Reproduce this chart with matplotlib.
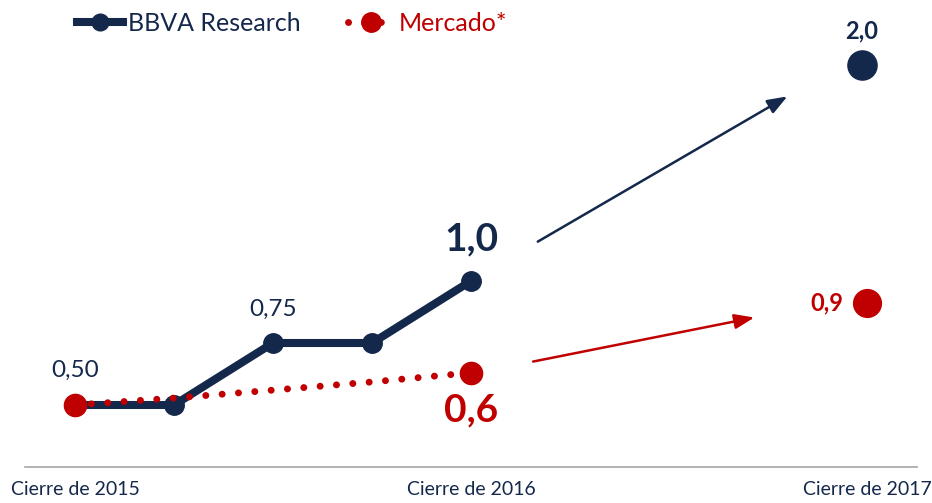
import matplotlib.pyplot as plt
from matplotlib.lines import Line2D

# datos
trimestres = [0, 1, 2, 3, 4]
bbva = [0.50, 0.50, 0.75, 0.75, 1.00]
mercado = [0.50, 0.528, 0.56, 0.593, 0.63]
x_2017 = 8
bbva_2017 = 2.0
mercado_2017 = 0.9
ticks = [0, 4, 8]
tick_labels = ["Cierre de 2015", "Cierre de 2016", "Cierre de 2017"]

AZUL = "#14284b"
ROJO = "#c00000"
plt.rcParams['font.family'] = ['Lato', 'DejaVu Sans']

fig = plt.figure(figsize=(9.32, 5.03), dpi=100)
ax = fig.add_axes([0, 36 / 503, 1, 467 / 503])
ax.set_xlim(-75 / 99, 857 / 99)
ax.set_ylim(0.25, 0.5 + 405 / 248)

ax.plot(trimestres, bbva, color=AZUL, lw=5.8, marker="o", ms=14, zorder=3)
ax.plot(trimestres, mercado, color=ROJO, lw=5.0, dashes=(0.01, 2.35),
        dash_capstyle="round", zorder=4)
ax.plot([trimestres[0], trimestres[-1]], [mercado[0], mercado[-1]], ls="none",
        marker="o", ms=16, color=ROJO, zorder=5)

# etiquetas
ax.text(0, 0.64, "0,50", ha="center", va="center", fontsize=17.5, color=AZUL)
ax.text(2, 0.885, "0,75", ha="center", va="center", fontsize=17.5, color=AZUL)
ax.text(4, 1.17, "1,0", ha="center", va="center", fontsize=28, color=AZUL, fontweight="bold")
ax.text(4, 0.48, "0,6", ha="center", va="center", fontsize=28, color=ROJO, fontweight="bold")

# escala aparte para 2017
ax2 = ax.twinx()
ax2.set_ylim((497.7 - 467) / 216.4, 497.7 / 216.4)
ax2.plot([x_2017 - 0.05], [bbva_2017], marker="o", ms=21, color=AZUL, ls="none")
ax2.plot([x_2017], [mercado_2017], marker="o", ms=20, color=ROJO, ls="none")
ax2.text(x_2017 - 0.05, bbva_2017 + 0.155, "2,0", ha="center", va="center",
         fontsize=17, color=AZUL, fontweight="bold")
ax2.text(x_2017 - 0.24, mercado_2017, "0,9", ha="right", va="center",
         fontsize=17, color=ROJO, fontweight="bold")
ax2.axis("off")

# flechas
ax.annotate("", xy=(7.22, 1.75), xytext=(4.65, 1.153),
            arrowprops=dict(arrowstyle="-|>,head_length=1.2,head_width=0.45", color=AZUL, lw=1.8))
ax.annotate("", xy=(6.89, 0.855), xytext=(4.6, 0.673),
            arrowprops=dict(arrowstyle="-|>,head_length=1.2,head_width=0.45", color=ROJO, lw=1.8))

for s in ["top", "left", "right"]:
    ax.spines[s].set_visible(False)
ax.spines["bottom"].set_color("#a6a6a6")
ax.spines["bottom"].set_linewidth(1.2)
ax.spines["bottom"].set_bounds(-50 / 99, 842 / 99)
ax.set_yticks([])
ax.set_xticks(ticks)
ax.set_xticklabels(tick_labels, fontsize=14, color=AZUL)
ax.tick_params(axis="x", length=0, pad=10)

handles = [
    Line2D([], [], color=AZUL, lw=5.8, marker="o", ms=12),
    Line2D([], [], color=ROJO, lw=5.0, dashes=(0.01, 2.35), dash_capstyle="round",
           marker="o", ms=14),
]
ax.legend(handles, ["BBVA Research", "Mercado*"], loc="upper left",
          bbox_to_anchor=(0.058, 1.022), ncol=2, frameon=False, fontsize=18,
          handlelength=1.85, handletextpad=0.2, columnspacing=1.9,
          labelcolor=[AZUL, ROJO])

fig.savefig("out.png", dpi=100)
